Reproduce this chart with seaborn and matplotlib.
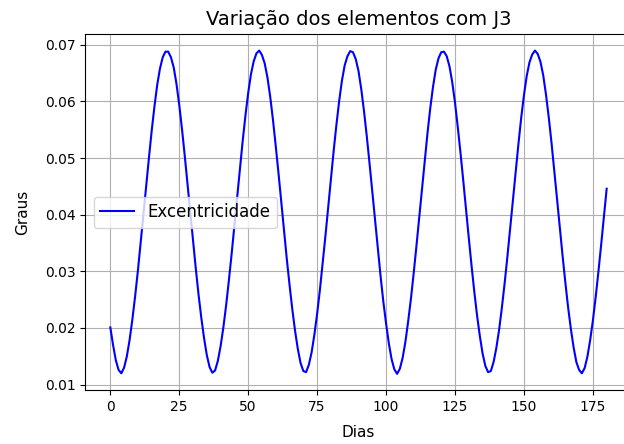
import matplotlib
matplotlib.use("Agg")
import matplotlib.pyplot as plt
import seaborn as sns

# Dias de simulação (0 a 180)
dias = list(range(0, 181))

# Excentricidade da órbita ao longo do tempo (perturbação J3)
excentricidade = [
    0.0201, 0.0170, 0.0143, 0.0126, 0.0120, 0.0130, 0.0150, 0.0179, 0.0215, 0.0256,
    0.0301, 0.0350, 0.0400, 0.0451, 0.0500, 0.0548, 0.0591, 0.0629, 0.0658, 0.0678,
    0.0688, 0.0688, 0.0678, 0.0660, 0.0631, 0.0594, 0.0551, 0.0504, 0.0454, 0.0403,
    0.0353, 0.0305, 0.0259, 0.0218, 0.0182, 0.0152, 0.0131, 0.0121, 0.0125, 0.0142,
    0.0168, 0.0201, 0.0240, 0.0284, 0.0331, 0.0381, 0.0432, 0.0482, 0.0530, 0.0575,
    0.0615, 0.0648, 0.0671, 0.0685, 0.0690, 0.0682, 0.0667, 0.0642, 0.0608, 0.0567,
    0.0521, 0.0473, 0.0422, 0.0372, 0.0322, 0.0276, 0.0233, 0.0195, 0.0163, 0.0138,
    0.0124, 0.0122, 0.0135, 0.0157, 0.0188, 0.0225, 0.0267, 0.0314, 0.0362, 0.0413,
    0.0463, 0.0513, 0.0559, 0.0601, 0.0637, 0.0664, 0.0680, 0.0689, 0.0687, 0.0675,
    0.0654, 0.0622, 0.0583, 0.0539, 0.0491, 0.0441, 0.0390, 0.0340, 0.0292, 0.0247,
    0.0208, 0.0173, 0.0145, 0.0127, 0.0119, 0.0128, 0.0147, 0.0175, 0.0211, 0.0251,
    0.0296, 0.0344, 0.0394, 0.0445, 0.0495, 0.0543, 0.0587, 0.0625, 0.0656, 0.0676,
    0.0687, 0.0688, 0.0680, 0.0662, 0.0634, 0.0598, 0.0555, 0.0509, 0.0460, 0.0409,
    0.0359, 0.0310, 0.0264, 0.0222, 0.0186, 0.0155, 0.0133, 0.0122, 0.0124, 0.0140,
    0.0165, 0.0197, 0.0236, 0.0279, 0.0326, 0.0376, 0.0426, 0.0477, 0.0525, 0.0571,
    0.0611, 0.0645, 0.0669, 0.0683, 0.0690, 0.0684, 0.0670, 0.0646, 0.0612, 0.0572,
    0.0527, 0.0478, 0.0428, 0.0377, 0.0328, 0.0281, 0.0237, 0.0199, 0.0166, 0.0140,
    0.0126, 0.0120, 0.0129, 0.0149, 0.0178, 0.0213, 0.0254, 0.0299, 0.0347, 0.0397,
    0.0446,
]

titulo = "Variação dos elementos com J3"
rotulo_x = "Dias"
rotulo_y = "Graus"
rotulo_serie = "Excentricidade"

fig = plt.figure(figsize=(6.24, 4.44), dpi=100)
# o eixo se estende um pouco além da borda direita da figura
ax = fig.add_axes([0.137, 0.1216, 0.875, 0.801])

sns.lineplot(x=dias, y=excentricidade, color="blue", linewidth=1.5,
             label=rotulo_serie, ax=ax)

ax.set_title(titulo, fontsize=14, pad=7)
ax.set_xlabel(rotulo_x, fontsize=11, labelpad=8)
ax.set_ylabel(rotulo_y, fontsize=11, labelpad=11)
ax.set_xticks([0, 25, 50, 75, 100, 125, 150, 175])
ax.grid(True)
ax.legend(loc="center left", fontsize=12)

fig.savefig("out.png", dpi=100)
